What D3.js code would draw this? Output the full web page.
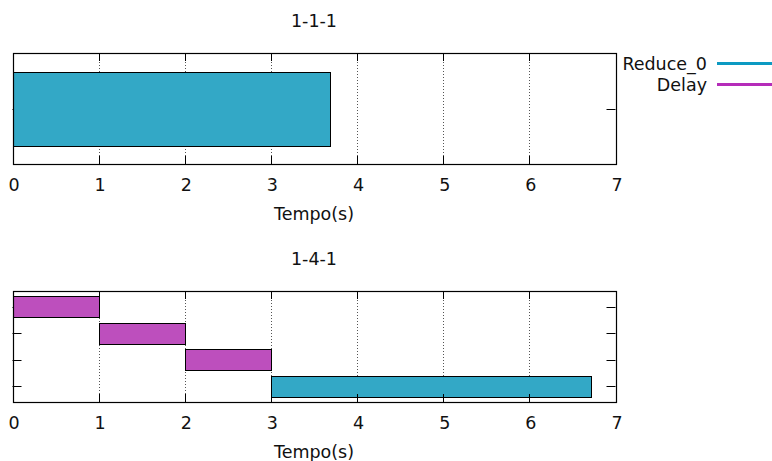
<!DOCTYPE html>
<html lang="en">
<head>
<meta charset="utf-8">
<title>Gantt</title>
<script src="https://d3js.org/d3.v7.min.js"></script>
<style>
  body { margin: 0; background: #fff; }
  text { font-family: "DejaVu Sans", sans-serif; font-size: 17.5px; fill: #111; }
</style>
</head>
<body>
<div id="chart"></div>
<script>

// data
var xTicks = [0, 1, 2, 3, 4, 5, 6, 7];
var titles = ["1-1-1", "1-4-1"];
var seriesNames = ["Reduce_0", "Delay"];
// each task: [row, start, end, series]
var tasks111 = [[0, 0, 3.69, "Reduce_0"]];
var tasks141 = [
  [3, 0, 1, "Delay"],
  [2, 1, 2, "Delay"],
  [1, 2, 3, "Delay"],
  [0, 3, 6.72, "Reduce_0"]
];
var rows111 = [0];
var rows141 = [0, 1, 2, 3];

var fillColor = {"Reduce_0": "#33a8c6", "Delay": "#bd4fbd"};
var keyColor = {"Reduce_0": "#0c9ac2", "Delay": "#b52cb9"};

var width = 772, height = 461;
var svg = d3.select("#chart").append("svg")
  .attr("width", width)
  .attr("height", height);

var x = d3.scaleLinear().domain([0, 7]).range([12.5, 615.5]);

function panel(tasks, rows, title, top, bottom) {
  var y = d3.scaleLinear()
    .domain([-0.6, rows.length - 1 + 0.6])
    .range([bottom, top]);
  var g = svg.append("g");

  // title
  g.append("text")
    .attr("x", x(3.5)).attr("y", top - 26)
    .attr("text-anchor", "middle")
    .text(title);

  // dotted grid
  g.selectAll(".grid")
    .data(xTicks.slice(1, -1))
    .enter().append("line")
    .attr("x1", d => Math.round(x(d)) + 0.5).attr("x2", d => Math.round(x(d)) + 0.5)
    .attr("y1", top).attr("y2", bottom)
    .attr("stroke", "#555")
    .attr("stroke-width", 1)
    .attr("stroke-dasharray", "1,2");

  // bars
  g.selectAll(".bar")
    .data(tasks)
    .enter().append("rect")
    .attr("x", d => Math.round(x(d[1])) + 0.5)
    .attr("y", d => Math.round(y(d[0] + 0.4)) + 0.5)
    .attr("width", d => Math.round(x(d[2])) - Math.round(x(d[1])))
    .attr("height", d => Math.round(y(d[0] - 0.4)) - Math.round(y(d[0] + 0.4)))
    .attr("fill", d => fillColor[d[3]])
    .attr("stroke", "#000")
    .attr("stroke-width", 1);

  // x ticks top and bottom (inward)
  xTicks.slice(1, -1).forEach(function (t) {
    var px = Math.round(x(t)) + 0.5;
    g.append("line").attr("x1", px).attr("x2", px)
      .attr("y1", bottom).attr("y2", bottom - 8).attr("stroke", "#000");
    g.append("line").attr("x1", px).attr("x2", px)
      .attr("y1", top).attr("y2", top + 8).attr("stroke", "#000");
  });

  // y ticks left and right (inward)
  rows.forEach(function (r) {
    var py = Math.round(y(r)) + 0.5;
    g.insert("line", "rect").attr("x1", x(0)).attr("x2", x(0) + 9)
      .attr("y1", py).attr("y2", py).attr("stroke", "#000");
    g.append("line").attr("x1", x(7)).attr("x2", x(7) - 9)
      .attr("y1", py).attr("y2", py).attr("stroke", "#000");
  });

  // frame
  g.append("rect")
    .attr("x", Math.round(x(0)) + 0.5).attr("y", Math.round(top) + 0.5)
    .attr("width", Math.round(x(7)) - Math.round(x(0)))
    .attr("height", Math.round(bottom) - Math.round(top))
    .attr("fill", "none")
    .attr("stroke", "#000")
    .attr("stroke-width", 1.2);

  // x tick labels
  g.selectAll(".xl")
    .data(xTicks)
    .enter().append("text")
    .attr("x", d => x(d) + 1.5)
    .attr("y", bottom + 27)
    .attr("text-anchor", "middle")
    .text(d => d);

  g.append("text")
    .attr("x", x(3.5)).attr("y", bottom + 56)
    .attr("text-anchor", "middle")
    .text("Tempo(s)");
}

panel(tasks111, rows111, titles[0], 53, 164);
panel(tasks141, rows141, titles[1], 291, 402);

// legend
seriesNames.forEach(function (s, i) {
  var ly = 63.5 + i * 21;
  svg.append("text")
    .attr("x", 707).attr("y", ly + 6)
    .attr("text-anchor", "end")
    .text(s);
  svg.append("line")
    .attr("x1", 717).attr("x2", 772)
    .attr("y1", ly).attr("y2", ly)
    .attr("stroke", keyColor[s])
    .attr("stroke-width", 3);
});

</script>
</body>
</html>
